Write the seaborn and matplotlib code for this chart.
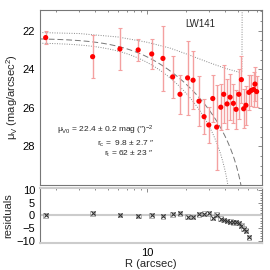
import numpy as np
import matplotlib
matplotlib.use("Agg")
import matplotlib.pyplot as plt
import seaborn as sns
from matplotlib.ticker import LogLocator, FixedLocator, MultipleLocator, NullFormatter, FuncFormatter

# ==========================================
# Data
# ==========================================
radius = [1.66, 3.82, 6.2, 8.57, 10.9, 13.3, 15.8, 18.0, 20.6, 22.7,
          25.2, 27.6, 30.0, 32.2, 34.5, 37.1, 39.1, 41.5, 43.8, 46.4,
          48.7, 51.1, 53.5, 55.7, 58.0, 61.2, 63.8, 66.5, 68.1, 70.1]
mu_v = [22.36, 23.35, 22.95, 23.0, 23.21, 23.44, 24.4, 25.3, 24.45, 24.57,
        25.66, 26.46, 26.89, 25.52, 27.0, 25.97, 25.3, 25.8, 25.45, 25.77,
        26.08, 25.3, 24.54, 26.05, 25.87, 25.2, 25.1, 25.05, 24.77, 25.16]
mu_err = [0.33, 1.12, 1.1, 0.56, 0.8, 1.7, 1.1, 1.0, 1.9, 1.5,
          1.3, 0.9, 0.95, 1.2, 2.2, 1.2, 1.5, 1.3, 1.2, 1.0,
          1.0, 1.3, 1.2, 1.0, 1.0, 0.9, 0.8, 0.9, 0.9, 0.8]

# residuals only exist inside the fitted tidal radius
resid_r = radius[:26]
resid = [0.0, 0.8, 0.2, -0.2, 0.0, -0.3, 0.4, 0.8, -0.5, -0.6,
         0.4, 0.7, 0.8, -0.9, 0.3, -1.3, -1.8, -2.2, -2.4, -2.7,
         -2.7, -3.0, -4.1, -5.3, -6.0, -8.6]

# King fits: best fit (dashed) and faint envelope (dotted)
fit_mu0, fit_rc, fit_rt = 22.4, 9.8, 62.0
low_mu0, low_rc, low_rt = 22.62, 9.8, 48.0

# bright envelope (dotted)
up_r = [1.5, 3.0, 6.0, 10.0, 15.0, 20.0, 30.0, 40.0, 48.0, 54.0, 54.3]
up_mu = [22.1, 22.15, 22.33, 22.6, 22.9, 23.2, 23.65, 23.95, 24.1, 24.2, 20.0]


def king(r, m0, c, t):
    a = 1.0 / np.sqrt(1 + (r / c) ** 2)
    b = 1.0 / np.sqrt(1 + (t / c) ** 2)
    f = (a - b) / (1 - b)
    with np.errstate(invalid="ignore", divide="ignore"):
        return m0 - 5 * np.log10(f)


rr = np.logspace(np.log10(1.5), np.log10(77), 500)

# ==========================================
# Figure
# ==========================================
sns.set_style("white")
plt.rcParams["font.family"] = ["Liberation Sans", "DejaVu Sans"]
plt.rcParams["mathtext.fontset"] = "custom"
plt.rcParams["mathtext.rm"] = "Liberation Sans"
plt.rcParams["mathtext.it"] = "Liberation Sans"

fig = plt.figure(figsize=(2.7, 2.7), dpi=100)
ax = fig.add_axes([0.148, 0.315, 0.822, 0.648])
axr = fig.add_axes([0.148, 0.100, 0.822, 0.204], sharex=ax)

edge = "#777777"
red = "#ff0000"
pink = "#f4a0a0"

# model curves
ax.plot(rr, king(rr, fit_mu0, fit_rc, fit_rt), ls=(0, (6, 3)), color="#777777", lw=0.7)
ax.plot(rr, king(rr, low_mu0, low_rc, low_rt), ls=(0, (1, 1.5)), color="#888888", lw=0.7)
ax.plot(up_r, up_mu, ls=(0, (1, 1.5)), color="#888888", lw=0.7)

ax.errorbar(radius, mu_v, yerr=mu_err, fmt="none", ecolor=pink, elinewidth=1.0,
            capsize=1.5, capthick=0.8, zorder=3)
sns.scatterplot(x=radius, y=mu_v, ax=ax, color=red, s=14, edgecolor="none", zorder=4)

ax.set_xscale("log")
ax.set_xlim(1.5, 77)
ax.set_ylim(30, 20.93)
ax.yaxis.set_major_locator(FixedLocator([22, 24, 26, 28]))
ax.yaxis.set_minor_locator(MultipleLocator(0.5))
ax.set_ylabel(r"$\mu_V$ (mag/arcsec$^2$)", fontsize=8, labelpad=2)

ax.text(0.72, 0.92, "LW141", transform=ax.transAxes, ha="center", va="center", fontsize=7)
fig.text(154 / 270, 1 - 130 / 270, r"$\mu_{V0}$ = 22.4 $\pm$ 0.2 mag (″)$^{-2}$",
         fontsize=6, ha="right", va="center")
fig.text(155 / 270, 1 - 144 / 270, "r$_c$ =  9.8 ± 2.7 ″", fontsize=6, ha="right", va="center")
fig.text(153 / 270, 1 - 154 / 270, "r$_t$ = 62 ± 23 ″", fontsize=6, ha="right", va="center")

# residuals
axr.axhline(0, color="#cccccc", lw=1.5, zorder=1)
sns.scatterplot(x=resid_r, y=resid, ax=axr, marker="s", s=12, facecolor="none",
                edgecolor="#999999", linewidth=0.5, zorder=2)
sns.scatterplot(x=resid_r, y=resid, ax=axr, color="#333333", marker="x", s=9,
                linewidth=0.8, zorder=3)
axr.set_ylim(-10.9, 10.9)
axr.yaxis.set_major_locator(FixedLocator([-10, -5, 0, 5, 10]))
axr.yaxis.set_minor_locator(MultipleLocator(1))
axr.set_ylabel("residuals", fontsize=8, labelpad=2)
axr.set_xlabel("R (arcsec)", fontsize=8, labelpad=1)

for a in (ax, axr):
    a.xaxis.set_major_locator(LogLocator(base=10, numticks=10))
    a.xaxis.set_minor_locator(LogLocator(base=10, subs=np.arange(2, 10), numticks=20))
    a.xaxis.set_minor_formatter(NullFormatter())
    a.tick_params(which="both", direction="in", top=True, right=True, colors=edge,
                  labelcolor="black", labelsize=8, width=0.6)
    a.tick_params(which="major", length=3)
    a.tick_params(which="minor", length=1.5)
    for s in a.spines.values():
        s.set_color(edge)
        s.set_linewidth(0.8)

ax.tick_params(labelbottom=False)
axr.xaxis.set_major_formatter(FuncFormatter(lambda v, p: "%d" % v))
axr.spines["top"].set_color("#cccccc")
axr.spines["bottom"].set_color("#cccccc")
axr.spines["top"].set_linewidth(1.5)
axr.spines["bottom"].set_linewidth(1.5)

fig.savefig("out.png", dpi=100)
